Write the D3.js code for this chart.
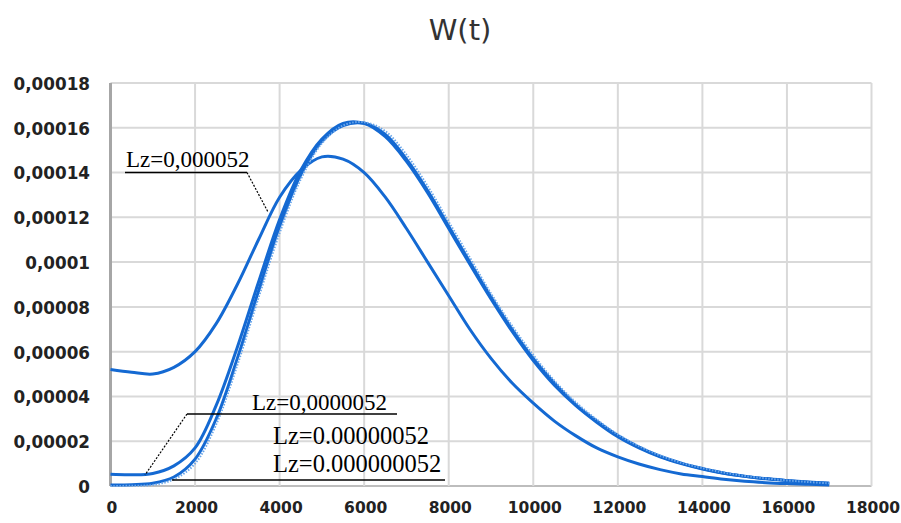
<!DOCTYPE html>
<html><head><meta charset="utf-8">
<script src="https://cdn.jsdelivr.net/npm/d3@7"></script>
<style>body{margin:0;background:#fff;}svg{display:block;}</style>
</head><body>
<svg id="c" width="901" height="523"></svg>
<script>
// time axis (s)
const times = [0,500,1000,1500,2000,2500,3000,3500,4000,4500,5000,5500,6000,6500,7000,7500,8000,8500,9000,9500,10000,10500,11000,11500,12000,12500,13000,13500,14000,14500,15000,15500,16000,16500,17000];
// W(t) values in units of 1e-5
const wLz52e6 = [5.2,5.08,5.0,5.3,6.0,7.25,9.0,11.0,12.9,14.1,14.7,14.6,14.0,12.9,11.5,10.0,8.5,7.0,5.7,4.6,3.7,2.9,2.25,1.7,1.3,0.98,0.73,0.54,0.42,0.3,0.21,0.15,0.11,0.08,0.05];
const wLz52e7 = [0.52,0.5,0.56,0.9,1.7,3.6,6.2,9.1,11.9,14.1,15.5,16.2,16.2,15.6,14.5,13.1,11.5,9.9,8.35,6.9,5.6,4.5,3.6,2.85,2.2,1.7,1.3,1.0,0.76,0.57,0.43,0.32,0.24,0.17,0.12];
const wLz52e8 = [0.05,0.06,0.12,0.4,1.2,3.0,5.7,8.7,11.6,13.9,15.4,16.1,16.2,15.7,14.6,13.2,11.6,10.0,8.45,7.0,5.7,4.6,3.65,2.9,2.25,1.74,1.33,1.02,0.78,0.58,0.44,0.33,0.25,0.18,0.12];
const wLz52e9 = [0.005,0.01,0.05,0.3,1.0,2.75,5.4,8.4,11.3,13.7,15.3,16.1,16.25,15.85,14.8,13.4,11.8,10.2,8.6,7.15,5.85,4.7,3.75,2.97,2.3,1.78,1.36,1.04,0.8,0.6,0.45,0.34,0.25,0.18,0.12];
const xTicks = [0,2000,4000,6000,8000,10000,12000,14000,16000,18000];
const yTicks = [0,0.00002,0.00004,0.00006,0.00008,0.0001,0.00012,0.00014,0.00016,0.00018];
const yTickLabels = ["0","0,00002","0,00004","0,00006","0,00008","0,0001","0,00012","0,00014","0,00016","0,00018"];
const title = "W(t)";
const annotations = ["Lz=0,000052","Lz=0,0000052","Lz=0.00000052","Lz=0.000000052"];

const svg = d3.select("#c");
const L = 110.5, R = 871.5, T = 83, B = 486;
const x = d3.scaleLinear().domain([0,18000]).range([L,R]);
const y = d3.scaleLinear().domain([0,0.00018]).range([B,T]);

svg.append("rect").attr("width",901).attr("height",523).attr("fill","#fff");

// title
svg.append("text").attr("x",460).attr("y",40).attr("text-anchor","middle")
  .attr("font-family","DejaVu Sans").attr("font-size",29).attr("fill","#333").text(title);

// grid
const g = svg.append("g");
g.selectAll("line.h").data(yTicks).join("line")
  .attr("x1",L).attr("x2",R).attr("y1",d=>y(d)).attr("y2",d=>y(d))
  .attr("stroke",(d)=>d===0?"#bdbdbd":"#d9d9d9").attr("stroke-width",2);
g.selectAll("line.v").data(xTicks).join("line")
  .attr("y1",T).attr("y2",B).attr("x1",d=>x(d)).attr("x2",d=>x(d))
  .attr("stroke",d=>d===0?"#a6a6a6":"#d9d9d9").attr("stroke-width",d=>d===0?3:2);

// axis labels via d3 axes
const yAxis = d3.axisLeft(y).tickValues(yTicks).tickSize(0).tickPadding(0)
  .tickFormat((d,i)=>yTickLabels[i]);
const ya = svg.append("g").attr("transform","translate(90,1)").call(yAxis);
ya.select(".domain").remove();
ya.selectAll("text").attr("font-family","DejaVu Sans").attr("font-weight","bold").attr("font-size",16.8).attr("fill","#222");

const xAxis = d3.axisBottom(x).tickValues(xTicks).tickSize(0).tickPadding(0).tickFormat(d3.format("d"));
const xa = svg.append("g").attr("transform","translate(1,502)").call(xAxis);
xa.select(".domain").remove();
xa.selectAll("text").attr("font-family","DejaVu Sans").attr("font-weight","bold").attr("font-size",15.5).attr("fill","#222");

// curves
const line = d3.line().x(d=>x(d[0])).y(d=>y(d[1]*1e-5)).curve(d3.curveCatmullRom.alpha(0.5));
const series = [
  {v:wLz52e6, c:"#1469d2", w:3, dash:null},
  {v:wLz52e7, c:"#1469d2", w:3, dash:null},
  {v:wLz52e8, c:"#1469d2", w:3, dash:null},
  {v:wLz52e9, c:"#6aa6ea", w:2, dash:"1.5,1.5"}
];
series.forEach(s=>{
  svg.append("path").datum(times.map((t,i)=>[t,s.v[i]]))
    .attr("d",line).attr("fill","none").attr("stroke",s.c).attr("stroke-width",s.w)
    .attr("stroke-dasharray",s.dash);
});

// annotations
const ann = svg.append("g").attr("font-family","Liberation Serif").attr("fill","#000");
function label(txt,xx,yy,fs){ann.append("text").attr("x",xx).attr("y",yy).attr("font-size",fs).text(txt);}
function seg(x1,y1,x2,y2,dash,w){ann.append("line").attr("x1",x1).attr("y1",y1).attr("x2",x2).attr("y2",y2)
  .attr("stroke","#000").attr("stroke-width",w).attr("stroke-dasharray",dash);}
label(annotations[0],126,166.5,23);
seg(125,172.5,247,172.5,null,1.5);
seg(247,172.5,268,212,"2,1.5",1.2);
label(annotations[1],252,409.5,23);
seg(187,414,397,414,null,1.5);
seg(187,414,145,475,"2,1.5",1.2);
label(annotations[2],273,444,24.5);
label(annotations[3],273,472,24.5);
seg(172,480,445,480,null,1.5);
</script>
</body></html>
